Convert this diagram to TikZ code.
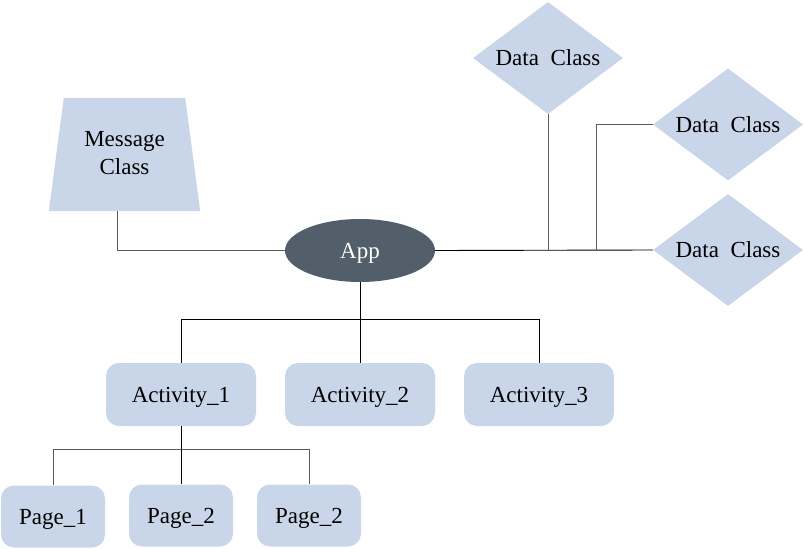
\documentclass[tikz,border=0pt]{standalone}
\usepackage{fontspec}
\setmainfont{Liberation Serif}
\usetikzlibrary{shapes.geometric}
\definecolor{boxblue}{RGB}{201,214,234}
\definecolor{appgray}{RGB}{82,94,106}
\definecolor{linegray}{RGB}{90,90,90}
\begin{document}
\begin{tikzpicture}[x=1pt,y=-1pt,
  every node/.style={font=\fontsize{23}{28}\selectfont},
  txt/.style={text height=15pt,text depth=0pt},
  rbox/.style={txt,rectangle,rounded corners=13pt,fill=boxblue,draw=none,minimum width=150pt,minimum height=63pt,inner sep=0pt},
  pbox/.style={rbox,minimum width=104pt,minimum height=62pt},
  dclass/.style={diamond,fill=boxblue,draw=none,minimum width=150pt,minimum height=112pt,inner sep=0pt},
  appnode/.style={txt,ellipse,fill=appgray,draw=none,minimum width=150pt,minimum height=63pt,inner sep=0pt,text=white},
  conn/.style={draw=black,line width=0.9pt},
  gconn/.style={draw=linegray,line width=0.9pt}]
\useasboundingbox (0,0) rectangle (804,549);
% Message class trapezoid
\node[minimum width=151pt,minimum height=113pt,inner sep=0pt] (msg) at (124.5,154.5) {};
\fill[boxblue] (msg.south west) -- (msg.south east) -- ([xshift=-15pt]msg.north east) -- ([xshift=15pt]msg.north west) -- cycle;
\node[align=center] (msgtext) at ([yshift=1pt]msg.center) {Message\\Class};
% App
\node[appnode] (app) at (360,250.5) {App};
% Data classes
\node[dclass] (d1) at (548,58) {};
\node[txt] (d1t) at (d1.center) {Data\hspace{0.5em}Class};
\node[dclass] (d2) at (728,124.5) {};
\node[txt] (d2t) at (d2.center) {Data\hspace{0.5em}Class};
\node[dclass] (d3) at (728,250) {};
\node[txt] (d3t) at (d3.center) {Data\hspace{0.5em}Class};
% Activities
\node[rbox] (a1) at (181,394.5) {Activity\_1};
\node[rbox] (a2) at (360,394.5) {Activity\_2};
\node[rbox] (a3) at (539,394.5) {Activity\_3};
% Pages
\node[pbox] (p1) at (53,516.5) {Page\_1};
\node[pbox] (p2) at (181,515.5) {Page\_2};
\node[pbox] (p3) at (309,515.5) {Page\_2};
% junctions
\coordinate (mj) at (117,211);
\coordinate (j1) at (360,319);
\coordinate (j2) at (181,449);
\coordinate (jd1) at (548,250);
\coordinate (jd2) at (596,250);
% connectors
\draw[gconn] (mj) |- (app.west);
\draw[conn] (app.east) -- (d3.west);
\draw[gconn] (d1.south) -- (jd1);
\draw[gconn] (d2.west) -| (jd2);
\draw[conn] (app.south) -- (j1);
\draw[conn] (a1.north) |- (j1);
\draw[conn] (a3.north) |- (j1);
\draw[conn] (a2.north) -- (j1);
\draw[conn] (a1.south) -- (j2);
\draw[gconn] (p1.north) |- (j2);
\draw[gconn] (p3.north) |- (j2);
\draw[conn] (p2.north) -- (j2);
\end{tikzpicture}
\end{document}
